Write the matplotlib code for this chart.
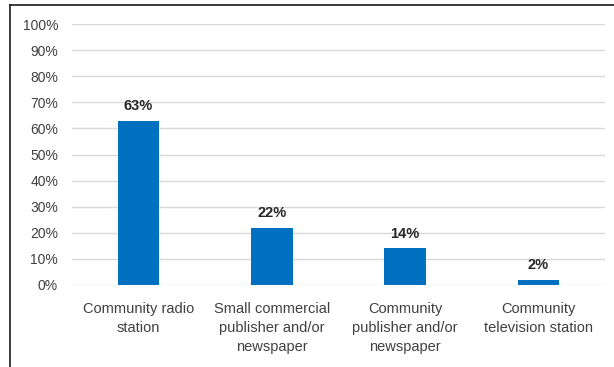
import matplotlib
matplotlib.use("Agg")
import matplotlib.pyplot as plt
from matplotlib.lines import Line2D

categories = ["Community radio\nstation",
              "Small commercial\npublisher and/or\nnewspaper",
              "Community\npublisher and/or\nnewspaper",
              "Community\ntelevision station"]
values = [63, 22, 14, 2]
yticks = [0, 10, 20, 30, 40, 50, 60, 70, 80, 90, 100]

plt.rcParams['font.family'] = ['Liberation Sans', 'DejaVu Sans']

fig = plt.figure(figsize=(6.14, 3.67), dpi=100)
ax = fig.add_axes([72/614, 1-285/367, 533/614, 261/367])

bar_color = "#0070C0"
x = range(len(categories))
ax.bar(x, values, width=0.31, color=bar_color, zorder=3)
for xi, v in zip(x, values):
    ax.text(xi, v + 2.9, f"{v}%", ha="center", va="bottom",
            fontsize=10.5, fontweight="bold", color="#262626")

ax.set_xlim(-0.5, len(categories) - 0.5)
ax.set_ylim(0, 100)
ax.set_yticks(yticks)
ax.set_yticklabels([f"{t}%" for t in yticks], fontsize=10, color="#404040")
ax.set_xticks(list(x))
ax.set_xticklabels(categories, fontsize=10.5, color="#404040", linespacing=1.45)
ax.tick_params(axis="both", length=0)
ax.tick_params(axis="y", pad=10)
ax.tick_params(axis="x", pad=12)
ax.yaxis.grid(True, color="#D9D9D9", linewidth=1, zorder=0)
for s in ax.spines.values():
    s.set_visible(False)

# outer frame lines (top and left)
fig.add_artist(Line2D([10/614, 1], [1-5/367, 1-5/367], color="#1a1a1a", linewidth=1.2))
fig.add_artist(Line2D([10/614, 10/614], [0, 1-5/367], color="#1a1a1a", linewidth=1.2))

fig.savefig("out.png", dpi=100)
